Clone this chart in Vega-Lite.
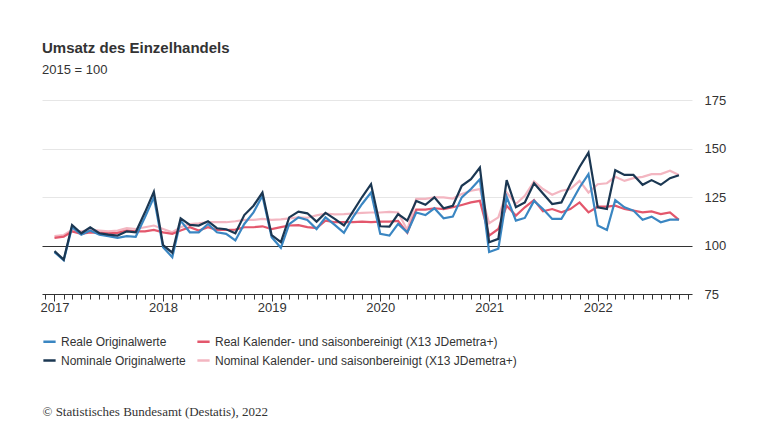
{
  "$schema": "https://vega.github.io/schema/vega-lite/v6.json",
  "width": 650,
  "height": 194,
  "padding": {"left": 40, "top": 41, "right": 5, "bottom": 5},
  "background": "white",
  "title": {
    "text": "Umsatz des Einzelhandels",
    "subtitle": "2015 = 100",
    "anchor": "start",
    "frame": "group",
    "font": "Liberation Sans",
    "fontSize": 15,
    "fontWeight": "bold",
    "color": "#333333",
    "subtitleFont": "Liberation Sans",
    "subtitleFontSize": 13,
    "subtitleColor": "#333333",
    "subtitlePadding": 8,
    "offset": 17
  },
  "config": {
    "view": {"stroke": null},
    "font": "Liberation Sans"
  },
  "data": {
    "values": [
      {"date": "2017-01-01", "reale": 96.6, "real_sb": 103.9, "nominale": 97.1, "nominal_sb": 104.8},
      {"date": "2017-02-01", "reale": 92.4, "real_sb": 104.6, "nominale": 92.7, "nominal_sb": 105.4},
      {"date": "2017-03-01", "reale": 109.4, "real_sb": 107.2, "nominale": 110.6, "nominal_sb": 108.0},
      {"date": "2017-04-01", "reale": 105.6, "real_sb": 106.0, "nominale": 106.3, "nominal_sb": 107.3},
      {"date": "2017-05-01", "reale": 107.7, "real_sb": 106.8, "nominale": 109.4, "nominal_sb": 108.0},
      {"date": "2017-06-01", "reale": 105.6, "real_sb": 106.5, "nominale": 106.3, "nominal_sb": 107.7},
      {"date": "2017-07-01", "reale": 104.8, "real_sb": 106.3, "nominale": 105.6, "nominal_sb": 107.3},
      {"date": "2017-08-01", "reale": 103.9, "real_sb": 106.5, "nominale": 105.1, "nominal_sb": 107.7},
      {"date": "2017-09-01", "reale": 104.8, "real_sb": 107.7, "nominale": 107.3, "nominal_sb": 108.9},
      {"date": "2017-10-01", "reale": 104.5, "real_sb": 107.3, "nominale": 106.8, "nominal_sb": 108.5},
      {"date": "2017-11-01", "reale": 114.5, "real_sb": 107.3, "nominale": 117.1, "nominal_sb": 109.4},
      {"date": "2017-12-01", "reale": 124.8, "real_sb": 108.0, "nominale": 127.7, "nominal_sb": 110.3},
      {"date": "2018-01-01", "reale": 99.1, "real_sb": 106.8, "nominale": 100.2, "nominal_sb": 108.5},
      {"date": "2018-02-01", "reale": 94.0, "real_sb": 106.0, "nominale": 96.3, "nominal_sb": 106.8},
      {"date": "2018-03-01", "reale": 112.8, "real_sb": 107.7, "nominale": 114.0, "nominal_sb": 109.4},
      {"date": "2018-04-01", "reale": 106.8, "real_sb": 109.4, "nominale": 110.6, "nominal_sb": 111.1},
      {"date": "2018-05-01", "reale": 106.8, "real_sb": 107.7, "nominale": 110.3, "nominal_sb": 111.4},
      {"date": "2018-06-01", "reale": 111.1, "real_sb": 109.4, "nominale": 112.5, "nominal_sb": 112.0},
      {"date": "2018-07-01", "reale": 106.8, "real_sb": 108.0, "nominale": 108.9, "nominal_sb": 112.0},
      {"date": "2018-08-01", "reale": 106.0, "real_sb": 108.0, "nominale": 108.4, "nominal_sb": 112.0},
      {"date": "2018-09-01", "reale": 102.6, "real_sb": 108.2, "nominale": 106.3, "nominal_sb": 112.5},
      {"date": "2018-10-01", "reale": 111.1, "real_sb": 109.4, "nominale": 115.7, "nominal_sb": 113.2},
      {"date": "2018-11-01", "reale": 117.1, "real_sb": 109.4, "nominale": 120.5, "nominal_sb": 113.2},
      {"date": "2018-12-01", "reale": 125.6, "real_sb": 109.9, "nominale": 127.3, "nominal_sb": 113.7},
      {"date": "2019-01-01", "reale": 104.3, "real_sb": 108.5, "nominale": 105.3, "nominal_sb": 113.2},
      {"date": "2019-02-01", "reale": 98.8, "real_sb": 109.5, "nominale": 101.7, "nominal_sb": 113.5},
      {"date": "2019-03-01", "reale": 111.0, "real_sb": 110.3, "nominale": 114.5, "nominal_sb": 114.0},
      {"date": "2019-04-01", "reale": 114.5, "real_sb": 110.5, "nominale": 117.5, "nominal_sb": 114.5},
      {"date": "2019-05-01", "reale": 113.2, "real_sb": 109.5, "nominale": 116.6, "nominal_sb": 114.3},
      {"date": "2019-06-01", "reale": 108.5, "real_sb": 109.0, "nominale": 112.3, "nominal_sb": 115.5},
      {"date": "2019-07-01", "reale": 114.5, "real_sb": 112.8, "nominale": 116.8, "nominal_sb": 116.5},
      {"date": "2019-08-01", "reale": 110.6, "real_sb": 112.0, "nominale": 113.7, "nominal_sb": 116.0},
      {"date": "2019-09-01", "reale": 106.5, "real_sb": 112.0, "nominale": 110.3, "nominal_sb": 116.2},
      {"date": "2019-10-01", "reale": 114.5, "real_sb": 112.0, "nominale": 117.5, "nominal_sb": 116.5},
      {"date": "2019-11-01", "reale": 121.4, "real_sb": 112.3, "nominale": 125.0, "nominal_sb": 116.8},
      {"date": "2019-12-01", "reale": 127.3, "real_sb": 112.0, "nominale": 131.6, "nominal_sb": 117.0},
      {"date": "2020-01-01", "reale": 106.0, "real_sb": 112.3, "nominale": 109.9, "nominal_sb": 117.0},
      {"date": "2020-02-01", "reale": 105.1, "real_sb": 112.3, "nominale": 109.7, "nominal_sb": 117.3},
      {"date": "2020-03-01", "reale": 111.1, "real_sb": 112.7, "nominale": 116.2, "nominal_sb": 117.0},
      {"date": "2020-04-01", "reale": 106.8, "real_sb": 106.5, "nominale": 112.8, "nominal_sb": 108.0},
      {"date": "2020-05-01", "reale": 117.0, "real_sb": 118.5, "nominale": 123.0, "nominal_sb": 124.0},
      {"date": "2020-06-01", "reale": 115.7, "real_sb": 118.5, "nominale": 121.0, "nominal_sb": 124.0},
      {"date": "2020-07-01", "reale": 119.2, "real_sb": 119.2, "nominale": 124.8, "nominal_sb": 124.8},
      {"date": "2020-08-01", "reale": 114.0, "real_sb": 118.8, "nominale": 119.2, "nominal_sb": 124.8},
      {"date": "2020-09-01", "reale": 114.9, "real_sb": 119.7, "nominale": 120.5, "nominal_sb": 124.2},
      {"date": "2020-10-01", "reale": 124.8, "real_sb": 120.9, "nominale": 130.8, "nominal_sb": 126.5},
      {"date": "2020-11-01", "reale": 129.1, "real_sb": 122.2, "nominale": 134.2, "nominal_sb": 128.2},
      {"date": "2020-12-01", "reale": 134.2, "real_sb": 123.0, "nominale": 140.2, "nominal_sb": 129.1},
      {"date": "2021-01-01", "reale": 96.6, "real_sb": 105.1, "nominale": 101.7, "nominal_sb": 111.5},
      {"date": "2021-02-01", "reale": 98.3, "real_sb": 108.5, "nominale": 103.4, "nominal_sb": 114.5},
      {"date": "2021-03-01", "reale": 125.1, "real_sb": 120.5, "nominale": 133.7, "nominal_sb": 127.3},
      {"date": "2021-04-01", "reale": 112.8, "real_sb": 115.4, "nominale": 119.7, "nominal_sb": 121.4},
      {"date": "2021-05-01", "reale": 114.2, "real_sb": 119.7, "nominale": 122.2, "nominal_sb": 125.6},
      {"date": "2021-06-01", "reale": 123.0, "real_sb": 123.4, "nominale": 132.1, "nominal_sb": 133.0},
      {"date": "2021-07-01", "reale": 118.8, "real_sb": 117.6, "nominale": 126.8, "nominal_sb": 129.1},
      {"date": "2021-08-01", "reale": 113.7, "real_sb": 118.8, "nominale": 121.4, "nominal_sb": 126.2},
      {"date": "2021-09-01", "reale": 113.7, "real_sb": 117.1, "nominale": 122.2, "nominal_sb": 128.2},
      {"date": "2021-10-01", "reale": 121.4, "real_sb": 118.8, "nominale": 131.6, "nominal_sb": 129.1},
      {"date": "2021-11-01", "reale": 129.9, "real_sb": 122.2, "nominale": 140.5, "nominal_sb": 133.3},
      {"date": "2021-12-01", "reale": 136.8, "real_sb": 117.1, "nominale": 147.9, "nominal_sb": 127.3},
      {"date": "2022-01-01", "reale": 110.3, "real_sb": 120.0, "nominale": 119.7, "nominal_sb": 131.6},
      {"date": "2022-02-01", "reale": 108.0, "real_sb": 120.0, "nominale": 118.8, "nominal_sb": 132.1},
      {"date": "2022-03-01", "reale": 123.4, "real_sb": 120.5, "nominale": 138.8, "nominal_sb": 135.4},
      {"date": "2022-04-01", "reale": 119.7, "real_sb": 118.8, "nominale": 136.4, "nominal_sb": 133.3},
      {"date": "2022-05-01", "reale": 118.0, "real_sb": 118.0, "nominale": 136.4, "nominal_sb": 134.7},
      {"date": "2022-06-01", "reale": 113.3, "real_sb": 117.1, "nominale": 131.3, "nominal_sb": 135.4},
      {"date": "2022-07-01", "reale": 114.9, "real_sb": 117.6, "nominale": 133.7, "nominal_sb": 136.8},
      {"date": "2022-08-01", "reale": 112.0, "real_sb": 116.2, "nominale": 131.3, "nominal_sb": 136.8},
      {"date": "2022-09-01", "reale": 113.3, "real_sb": 117.1, "nominale": 134.7, "nominal_sb": 138.5},
      {"date": "2022-10-01", "reale": 113.3, "real_sb": 113.2, "nominale": 136.2, "nominal_sb": 136.4}
    ]
  },
  "transform": [
    {"fold": ["nominal_sb", "real_sb", "reale", "nominale"], "as": ["series", "value"]}
  ],
  "mark": {"type": "line", "strokeWidth": 2.2},
  "encoding": {
    "x": {
      "field": "date",
      "type": "temporal",
      "scale": {
        "type": "utc",
        "domain": [
          {"year": 2016, "month": 11, "date": 20, "utc": true},
          {"year": 2022, "month": 11, "date": 14, "utc": true}
        ]
      },
      "axis": {
        "title": "© Statistisches Bundesamt (Destatis), 2022",
        "titleFont": "Liberation Serif",
        "titleFontSize": 13,
        "titleFontWeight": "normal",
        "titleColor": "#333333",
        "titleAnchor": "start",
        "titleAlign": "left",
        "titleBaseline": "alphabetic",
        "titleX": 0,
        "titleY": 121,
        "tickCount": {"interval": "month", "step": 1},
        "labelExpr": "utcmonth(datum.value) == 0 ? utcFormat(datum.value, '%Y') : ''",
        "labelOverlap": false,
        "labelFlush": false,
        "labelFontSize": 13,
        "labelColor": "#333333",
        "labelPadding": 0,
        "tickSize": {"condition": {"test": "utcmonth(datum.value) == 0", "value": 7}, "value": 5},
        "tickColor": "#333333",
        "domainColor": "#333333",
        "grid": false
      }
    },
    "y": {
      "field": "value",
      "type": "quantitative",
      "scale": {"domain": [75, 175]},
      "axis": {
        "title": null,
        "orient": "right",
        "values": [75, 100, 125, 150, 175],
        "domain": false,
        "ticks": false,
        "labelAlign": "left",
        "labelPadding": 12,
        "labelFontSize": 13,
        "labelColor": "#333333",
        "gridColor": {"condition": {"test": "datum.value == 100", "value": "#333333"}, "value": "#e6e6e6"},
        "gridWidth": 1
      }
    },
    "color": {
      "field": "series",
      "type": "nominal",
      "scale": {
        "domain": ["reale", "nominale", "real_sb", "nominal_sb"],
        "range": ["#3a86c2", "#1b3752", "#e3576c", "#f3b6c1"]
      },
      "legend": {
        "orient": "none",
        "legendX": 0,
        "legendY": 234,
        "columns": 2,
        "title": null,
        "symbolType": "stroke",
        "symbolStrokeWidth": 2.5,
        "symbolSize": 150,
        "labelFontSize": 12,
        "labelColor": "#333333",
        "labelLimit": 400,
        "columnPadding": 6,
        "rowPadding": 5,
        "labelExpr": "datum.value == 'reale' ? 'Reale Originalwerte' : datum.value == 'real_sb' ? 'Real Kalender- und saisonbereinigt (X13 JDemetra+)' : datum.value == 'nominale' ? 'Nominale Originalwerte' : 'Nominal Kalender- und saisonbereinigt (X13 JDemetra+)'"
      }
    }
  }
}
